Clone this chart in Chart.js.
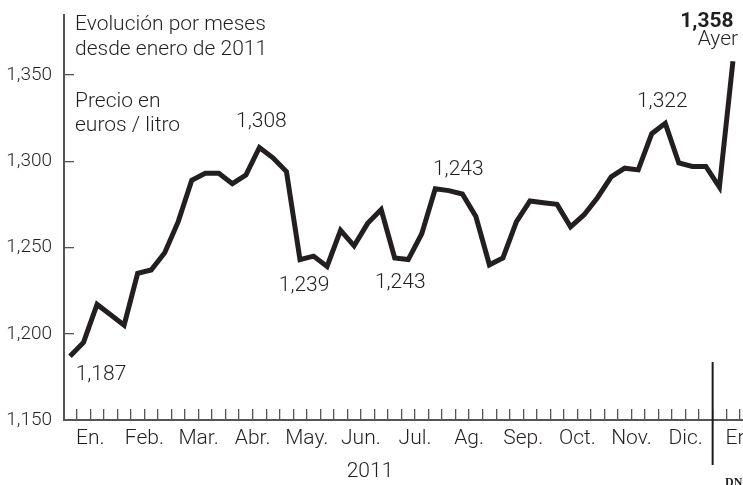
<!DOCTYPE html>
<html>
<head>
<meta charset="utf-8">
<script src="https://cdn.jsdelivr.net/npm/chart.js@4/dist/chart.umd.min.js"></script>
<style>
  html, body { margin: 0; padding: 0; background: #fff; overflow: hidden; }
  canvas { display: block; }
</style>
</head>
<body>
<canvas id="priceChart" width="770" height="485"></canvas>
<script>
// weekly fuel price, Jan 2011 -> Jan 2012 (euros / litro)
const prices = [
  1.187, 1.195, 1.217, 1.211, 1.205, 1.235, 1.237, 1.247, 1.265, 1.289,
  1.293, 1.293, 1.287, 1.292, 1.308, 1.302, 1.294, 1.243, 1.245, 1.239,
  1.260, 1.251, 1.264, 1.272, 1.244, 1.243, 1.258, 1.284, 1.283, 1.281,
  1.268, 1.240, 1.244, 1.265, 1.277, 1.276, 1.275, 1.262, 1.269, 1.279,
  1.291, 1.296, 1.295, 1.316, 1.322, 1.299, 1.297, 1.297, 1.285, 1.358
];
const months = ['En.', 'Feb.', 'Mar.', 'Abr.', 'May.', 'Jun.', 'Jul.', 'Ag.', 'Sep.', 'Oct.', 'Nov.', 'Dic.', 'En.'];
const yTicks = [1.15, 1.20, 1.25, 1.30, 1.35];
const yearBreak = 47.5;

// labelled points: [week index, text]
const callouts = [
  [0, '1,187'], [14, '1,308'], [19, '1,239'], [25, '1,243'], [27, '1,243'], [44, '1,322']
];

const FONT = "Roboto, 'Noto Sans', sans-serif";
const INK = '#231f20';
const AXIS = '#555';

// where each callout text sits relative to its point (dx, baseline dy)
const calloutOffset = {
  0: [31, 24], 14: [2, -20], 19: [-23, 25], 25: [-8, 28], 27: [23, -14], 44: [-3, -16]
};

const textPlugin = {
  id: 'texts',
  afterDraw(chart) {
    const ctx = chart.ctx;
    const xs = chart.scales.x, ys = chart.scales.y;
    ctx.save();
    ctx.fillStyle = INK;
    ctx.textBaseline = 'alphabetic';

    ctx.font = '300 21px ' + FONT;
    ctx.textAlign = 'left';
    ctx.fillText('Evolución por meses', 75, 30);
    ctx.fillText('desde enero de 2011', 75, 55);
    ctx.fillText('Precio en', 75, 107);
    ctx.fillText('euros / litro', 75, 131);

    ctx.textAlign = 'center';
    ctx.fillText('2011', 370, 477);

    callouts.forEach(([i, txt]) => {
      const o = calloutOffset[i];
      ctx.fillText(txt, xs.getPixelForValue(i) + o[0], ys.getPixelForValue(prices[i]) + o[1]);
    });

    // last value
    const last = prices.length - 1;
    ctx.font = 'bold 21px ' + FONT;
    ctx.fillText('1,358', xs.getPixelForValue(last) - 26, 27);
    ctx.font = '300 21px ' + FONT;
    ctx.fillText('Ayer', xs.getPixelForValue(last) - 15, 45);

    // year separator
    const bx = xs.getPixelForValue(yearBreak);
    ctx.strokeStyle = '#1a1a1a';
    ctx.lineWidth = 2;
    ctx.beginPath();
    ctx.moveTo(bx, ys.getPixelForValue(1.1836));
    ctx.lineTo(bx, chart.chartArea.bottom + 45);
    ctx.stroke();

    ctx.font = 'bold 12px "Liberation Serif", serif';
    ctx.textAlign = 'left';
    ctx.fillText('DN', 725, 486);
    ctx.restore();
  }
};

const ctx = document.getElementById('priceChart').getContext('2d');
new Chart(ctx, {
  type: 'line',
  data: {
    datasets: [{
      data: prices.map((v, i) => ({ x: i, y: v })),
      borderColor: INK,
      borderWidth: 5,
      borderJoinStyle: 'miter',
      pointRadius: 0,
      tension: 0,
      clip: false
    }]
  },
  options: {
    responsive: false,
    animation: false,
    layout: { padding: { top: 15, left: 0, right: 0, bottom: 0 } },
    plugins: { legend: { display: false }, tooltip: { enabled: false } },
    scales: {
      x: {
        type: 'linear',
        min: -0.443,
        max: 51.74,
        afterFit: s => { s.height = 65; s.paddingLeft = 0; s.paddingRight = 0; },
        afterBuildTicks: s => {
          s.ticks = prices.map((v, i) => ({ value: i + 0.5 }));
        },
        grid: { drawOnChartArea: false, tickLength: -11, color: AXIS, lineWidth: 1.3 },
        border: { color: AXIS, width: 2 },
        ticks: {
          autoSkip: false,
          maxRotation: 0,
          minRotation: 0,
          padding: 17,
          color: INK,
          font: { family: FONT, size: 21, weight: '300' },
          callback: v => {
            const k = (v - 1.5) / 4;
            return Number.isInteger(k) ? months[k] : '';
          }
        }
      },
      y: {
        min: 1.15,
        max: 1.3848,
        afterFit: s => { s.width = 64; s.paddingTop = 0; s.paddingBottom = 0; },
        afterBuildTicks: s => { s.ticks = yTicks.map(v => ({ value: v })); },
        grid: { drawOnChartArea: false, tickLength: -10, color: AXIS, lineWidth: 1.3 },
        border: { color: AXIS, width: 2 },
        ticks: {
          padding: 22,
          color: INK,
          font: { family: FONT, size: 19, weight: '300' },
          callback: v => v.toFixed(3).replace('.', ',')
        }
      }
    }
  },
  plugins: [textPlugin]
});
</script>
</body>
</html>
